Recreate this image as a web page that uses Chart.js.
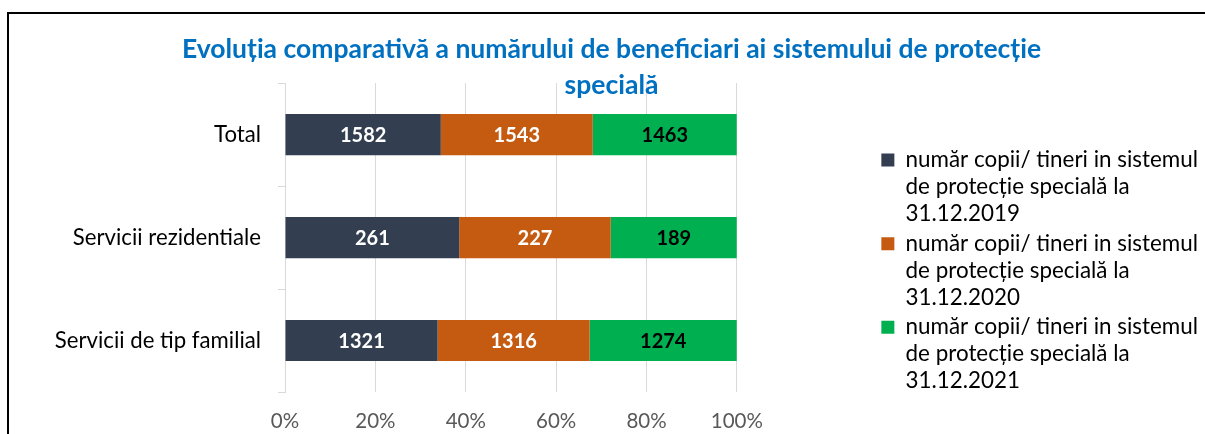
<!DOCTYPE html>
<html>
<head>
<meta charset="utf-8">
<script src="https://cdn.jsdelivr.net/npm/chart.js@4/dist/chart.umd.min.js"></script>
<style>
  body { margin: 0; background: #fff; }
  .wrap { position: relative; width: 1205px; height: 434px; overflow: hidden; }
  .frame {
    position: absolute; left: 7px; top: 12px; right: -5px; bottom: -5px;
    border-top: 2px solid #000; border-left: 2px solid #000;
    pointer-events: none;
  }
</style>
</head>
<body>
<div class="wrap">
  <canvas id="chart" width="1205" height="434"></canvas>
  <div class="frame"></div>
</div>
<script>
// data
const categories = ['Total', 'Servicii rezidentiale', 'Servicii de tip familial'];
const values2019 = [1582, 261, 1321];
const values2020 = [1543, 227, 1316];
const values2021 = [1463, 189, 1274];
const seriesLabels = [
  ['număr copii/ tineri in sistemul', 'de protecție specială la', '31.12.2019'],
  ['număr copii/ tineri in sistemul', 'de protecție specială la', '31.12.2020'],
  ['număr copii/ tineri in sistemul', 'de protecție specială la', '31.12.2021'],
];
const seriesColors = ['#333F50', '#C55A11', '#00B050'];
const labelColors = ['#fff', '#fff', '#000'];
const titleLines = ['Evoluția comparativă a numărului de beneficiari ai sistemului de protecție', 'specială'];

const allSeries = [values2019, values2020, values2021];
const totals = categories.map((c, i) => allSeries.reduce((sum, s) => sum + s[i], 0));

// 100% stacked -> share of each category total
const datasets = allSeries.map((vals, k) => ({
  label: seriesLabels[k],
  data: vals.map((v, i) => v / totals[i] * 100),
  raw: vals,
  backgroundColor: seriesColors[k],
  borderWidth: 0,
  barPercentage: 0.5,
  categoryPercentage: 0.8,
}));

// values written inside each bar segment
const barValues = {
  id: 'barValues',
  afterDatasetsDraw(chart) {
    const ctx = chart.ctx;
    ctx.save();
    ctx.font = 'bold 20px Lato';
    ctx.textAlign = 'center';
    ctx.textBaseline = 'middle';
    chart.data.datasets.forEach((ds, k) => {
      const meta = chart.getDatasetMeta(k);
      ctx.fillStyle = labelColors[k];
      meta.data.forEach((bar, i) => {
        ctx.fillText(String(ds.raw[i]), (bar.x + bar.base) / 2, bar.y + 1);
      });
    });
    ctx.restore();
  }
};

new Chart(document.getElementById('chart'), {
  type: 'bar',
  data: { labels: categories, datasets: datasets },
  plugins: [barValues],
  options: {
    indexAxis: 'y',
    responsive: false,
    animation: false,
    layout: { padding: { left: 15, right: -3, top: 0, bottom: 0 } },
    plugins: {
      tooltip: { enabled: false },
      title: {
        display: true,
        text: titleLines,
        color: '#0070C0',
        font: { family: 'Lato', size: 26.5, weight: 'bold', lineHeight: 1.36 },
        padding: { top: 31, bottom: -20 },
      },
      legend: {
        position: 'right',
        align: 'start',
        maxWidth: 340,
        title: { display: true, text: '', font: { size: 1, lineHeight: 1 }, padding: { top: 144.8, bottom: 0 } },
        labels: {
          boxWidth: 13,
          boxHeight: 13,
          padding: 3,
          color: '#000',
          font: { family: 'Lato', size: 22.4, lineHeight: 1.2 },
        },
      },
    },
    scales: {
      x: {
        stacked: true,
        min: 0,
        max: 100,
        ticks: {
          stepSize: 20,
          padding: 17,
          color: '#595959',
          font: { family: 'Lato', size: 20.5 },
          callback: v => v + '%',
        },
        grid: { color: '#D9D9D9', drawTicks: false },
        border: { display: false },
        afterFit: s => { s.height = 42; },
      },
      y: {
        stacked: true,
        ticks: { padding: 17, color: '#000', font: { family: 'Lato', size: 22.2 } },
        grid: { offset: true, drawOnChartArea: false, tickLength: 7, color: '#D9D9D9' },
        border: { color: '#D9D9D9' },
        afterFit: s => { s.width = 270; },
      },
      // empty spacer between plot and legend
      y2: {
        type: 'category',
        position: 'right',
        grid: { display: false },
        border: { display: false },
        ticks: { display: false },
        afterFit: s => { s.width = 141.5; },
      },
    },
  },
});
</script>
</body>
</html>
